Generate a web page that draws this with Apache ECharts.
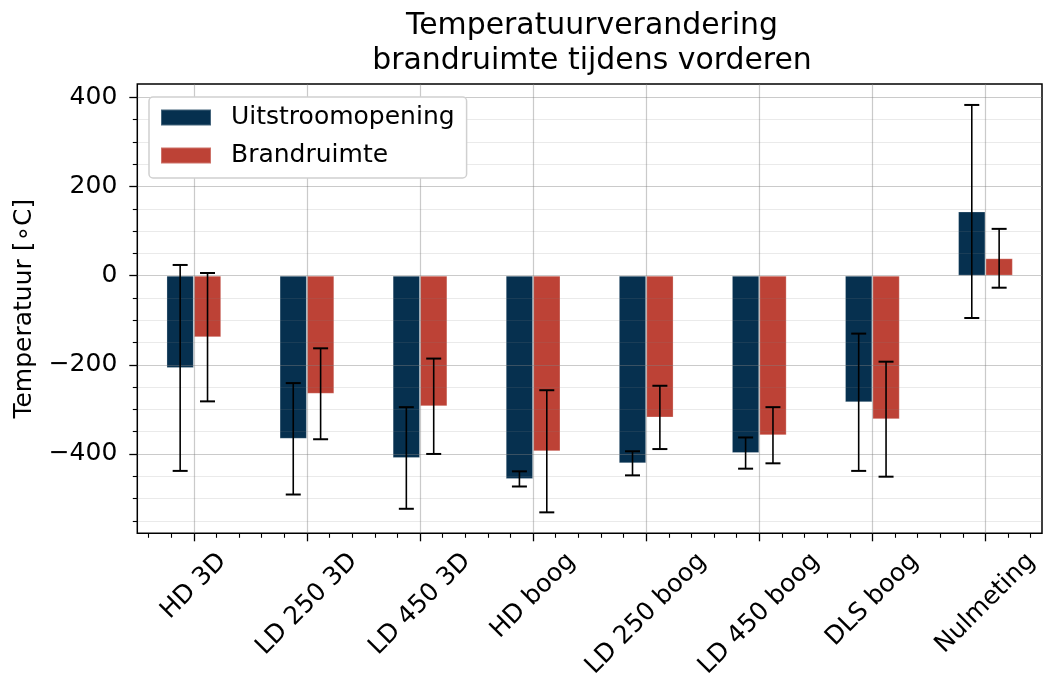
<!DOCTYPE html>
<html>
<head>
<meta charset="utf-8">
<script src="https://cdn.jsdelivr.net/npm/echarts@6/dist/echarts.min.js"></script>
<style>
html,body{margin:0;padding:0;background:#fff;}
#chart{width:1043px;height:677px;}
</style>
</head>
<body>
<div id="chart"></div>
<script>
// ---- data ----
const categories = ['HD 3D', 'LD 250 3D', 'LD 450 3D', 'HD boog', 'LD 250 boog', 'LD 450 boog', 'DLS boog', 'Nulmeting'];
const uitstroom    = [-207, -366, -409, -456, -421, -398, -284, 144];
const uitstroomErr = [231, 125, 114, 17, 27, 35, 154, 239];
const brand        = [-138, -265, -293, -394, -318, -358, -322, 39];
const brandErr     = [144, 102, 107, 137, 71, 63, 129, 66];
const seriesNames  = ['Uitstroomopening', 'Brandruimte'];
const yMajorTicks  = [-400, -200, 0, 200, 400];
const yMinorTicks  = [-550, -500, -450, -350, -300, -250, -150, -100, -50, 50, 100, 150, 250, 300, 350];
const titleText    = 'Temperatuurverandering\nbrandruimte tijdens vorderen';
const yAxisTitle   = 'Temperatuur [\u2218C]';

// ---- styling ----
const FONT = '"DejaVu Sans", Verdana, sans-serif';
const FS = 25;
const BLUE = '#06304f';
const RED = '#bd4236';
const MAJOR_GRID = 'rgba(128,128,128,0.42)';
const MINOR_GRID = 'rgba(128,128,128,0.17)';
const Y_MIN = -578, Y_MAX = 430;
const BAR_FRAC = 0.242;
const LABEL_TOP_GAP = 14;   // px from axis to top of rotated label box
const LABEL_H = 29;         // text box height

const fmt = v => (v < 0 ? '\u2212' + Math.abs(v) : String(v));

const mctx = document.createElement('canvas').getContext('2d');
mctx.font = FS + 'px ' + FONT;

const xMinor = [];
for (let i = -1; i <= categories.length; i++) {
  for (let k = 1; k < 5; k++) {
    const v = +(i + k * 0.2).toFixed(2);
    if (v > -0.5 && v < categories.length - 0.5) xMinor.push(v);
  }
}
const xMajor = categories.map((c, i) => i);

function errSeries(name, vals, errs, sign) {
  return {
    type: 'custom',
    name: name + ' err',
    xAxisIndex: 0, yAxisIndex: 0,
    z: 5,
    silent: true,
    data: vals.map((v, i) => [i, v, errs[i]]),
    renderItem: function (params, api) {
      const i = api.value(0), v = api.value(1), e = api.value(2);
      const band = api.size([1, 0])[0];
      const off = sign * band * BAR_FRAC / 2;
      const top = api.coord([i, v + e]);
      const bot = api.coord([i, v - e]);
      const x = top[0] + off;
      const cap = 7.5;
      return {
        type: 'group',
        children: [
          { type: 'line', shape: { x1: x, y1: top[1], x2: x, y2: bot[1] }, style: { stroke: '#000', lineWidth: 1.6 } },
          { type: 'line', shape: { x1: x - cap, y1: top[1], x2: x + cap, y2: top[1] }, style: { stroke: '#000', lineWidth: 2 } },
          { type: 'line', shape: { x1: x - cap, y1: bot[1], x2: x + cap, y2: bot[1] }, style: { stroke: '#000', lineWidth: 2 } }
        ]
      };
    }
  };
}

// rotated category labels, centred under each tick (matplotlib rotation=45, ha='center')
const labelSeries = {
  type: 'custom',
  name: 'category labels',
  xAxisIndex: 0, yAxisIndex: 0,
  z: 6, silent: true, clip: false,
  data: categories.map((c, i) => [i]),
  renderItem: function (params, api) {
    const i = api.value(0);
    const text = categories[i];
    const p = api.coord([i, Y_MIN]);
    const L = mctx.measureText(text).width;
    const cy = p[1] + LABEL_TOP_GAP + (L + LABEL_H) * Math.SQRT1_2 / 2;
    return {
      type: 'text',
      x: p[0], y: cy,
      rotation: Math.PI / 4,
      style: {
        text: text, align: 'center', verticalAlign: 'middle',
        font: FS + 'px ' + FONT, fill: '#000'
      }
    };
  }
};

const chart = echarts.init(document.getElementById('chart'), null, { renderer: 'canvas' });
chart.setOption({
  animation: false,
  backgroundColor: '#fff',
  textStyle: { fontFamily: FONT },
  title: {
    text: titleText,
    left: 587, top: 4, textAlign: 'center',
    textStyle: { fontFamily: FONT, fontSize: 29.9, fontWeight: 'normal', color: '#000', lineHeight: 35 }
  },
  legend: {
    orient: 'vertical',
    left: 149, top: 97,
    padding: [8, 12, 10, 11],
    itemWidth: 50, itemHeight: 16, itemGap: 13,
    icon: 'rect',
    backgroundColor: '#fff',
    borderColor: '#d0d0d0', borderWidth: 1.5, borderRadius: 4,
    textStyle: { fontFamily: FONT, fontSize: FS, color: '#000', lineHeight: 25, padding: [0, 0, 0, 15] },
    data: seriesNames
  },
  grid: {
    left: 137.3, right: 1, top: 84, bottom: 143.7,
    show: true, borderColor: '#000', borderWidth: 1.5, backgroundColor: 'transparent',
    outerBoundsMode: 'none'
  },
  xAxis: [
    {
      type: 'category', data: categories, boundaryGap: true, position: 'bottom',
      axisLine: { show: false, onZero: false },
      axisTick: { show: true, alignWithLabel: true, length: 8, lineStyle: { color: '#000', width: 1.3 } },
      axisLabel: { show: false, interval: 0 },
      splitLine: { show: false }
    },
    {
      type: 'value', min: -0.5, max: categories.length - 0.5, position: 'bottom',
      axisLine: { show: false, onZero: false },
      axisTick: { show: true, customValues: xMinor, length: 4.5, lineStyle: { color: '#000', width: 1.1 } },
      axisLabel: { show: false },
      splitLine: { show: false }
    },
    {
      type: 'value', min: -0.5, max: categories.length - 0.5, position: 'bottom', z: 3,
      axisLine: { show: false, onZero: false },
      axisTick: { show: false, customValues: xMajor },
      axisLabel: { show: false },
      splitLine: { show: true, lineStyle: { color: MAJOR_GRID, width: 1.2 } }
    }
  ],
  yAxis: [
    {
      type: 'value', min: Y_MIN, max: Y_MAX, position: 'left', z: 3,
      name: yAxisTitle, nameLocation: 'middle', nameGap: 100, nameRotate: 90,
      nameTextStyle: { fontFamily: FONT, fontSize: FS, color: '#000' },
      nameMoveOverlap: false,
      axisLine: { show: false, onZero: false },
      axisTick: { show: true, customValues: yMajorTicks, length: 8, lineStyle: { color: '#000', width: 1.3 } },
      axisLabel: { customValues: yMajorTicks, formatter: fmt, margin: 20, fontFamily: FONT, fontSize: FS, color: '#000' },
      splitLine: { show: true, lineStyle: { color: MAJOR_GRID, width: 1.2 } }
    },
    {
      type: 'value', min: Y_MIN, max: Y_MAX, position: 'left', z: 3,
      axisLine: { show: false, onZero: false },
      axisTick: { show: true, customValues: yMinorTicks, length: 4.5, lineStyle: { color: '#000', width: 1.1 } },
      axisLabel: { show: false },
      splitLine: { show: true, lineStyle: { color: MINOR_GRID, width: 1.2 } }
    }
  ],
  series: [
    {
      type: 'bar', name: seriesNames[0], data: uitstroom, xAxisIndex: 0, yAxisIndex: 0,
      barWidth: (BAR_FRAC * 100) + '%', barGap: '0%',
      itemStyle: { color: BLUE, borderColor: 'rgba(255,255,255,0.25)', borderWidth: 1 }
    },
    {
      type: 'bar', name: seriesNames[1], data: brand, xAxisIndex: 0, yAxisIndex: 0,
      barWidth: (BAR_FRAC * 100) + '%', barGap: '0%',
      itemStyle: { color: RED, borderColor: 'rgba(255,255,255,0.25)', borderWidth: 1 }
    },
    errSeries(seriesNames[0], uitstroom, uitstroomErr, -1),
    errSeries(seriesNames[1], brand, brandErr, 1),
    labelSeries
  ]
});
</script>
</body>
</html>
